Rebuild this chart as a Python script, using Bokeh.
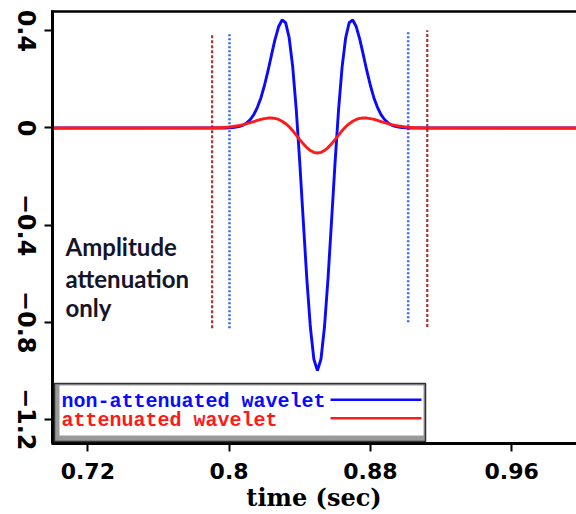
import math
from bokeh.plotting import figure
from bokeh.models import (Range1d, FixedTicker, CustomJSTickFormatter, BoxAnnotation,
                          Label, Arrow, ColumnDataSource)
from bokeh.core.properties import value
from bokeh.embed import file_html
from bokeh.resources import INLINE

# ---- data ----
time_s = [0.700,
          0.790, 0.792, 0.794, 0.796, 0.798, 0.800, 0.802, 0.804, 0.806, 0.808,
          0.810, 0.812, 0.814, 0.816, 0.818, 0.820, 0.822, 0.824, 0.826, 0.828,
          0.830, 0.832, 0.834, 0.836, 0.838, 0.840, 0.842, 0.844, 0.846, 0.848,
          0.850,
          0.852, 0.854, 0.856, 0.858, 0.860, 0.862, 0.864, 0.866, 0.868, 0.870,
          0.872, 0.874, 0.876, 0.878, 0.880, 0.882, 0.884, 0.886, 0.888, 0.890,
          0.892, 0.894, 0.896, 0.898, 0.900, 0.902, 0.904, 0.906, 0.908, 0.910,
          1.000]

non_attenuated = [0.0,
                  0.0, 0.0, 0.0, 0.0, 0.0, 0.001, 0.002, 0.004, 0.007, 0.012,
                  0.021, 0.035, 0.055, 0.085, 0.124, 0.175, 0.235, 0.301, 0.365, 0.417,
                  0.445, 0.434, 0.372, 0.253, 0.078, -0.142, -0.384, -0.621, -0.820, -0.953,
                  -1.000,
                  -0.953, -0.820, -0.621, -0.384, -0.142, 0.078, 0.253, 0.372, 0.434, 0.445,
                  0.417, 0.365, 0.301, 0.235, 0.175, 0.124, 0.085, 0.055, 0.035, 0.021,
                  0.012, 0.007, 0.004, 0.002, 0.001, 0.0, 0.0, 0.0, 0.0, 0.0,
                  0.0]

attenuated = [0.0,
              0.0006, 0.0010, 0.0014, 0.0021, 0.0031, 0.0043, 0.0060, 0.0082, 0.0108, 0.0140,
              0.0178, 0.0220, 0.0265, 0.0310, 0.0352, 0.0386, 0.0409, 0.0413, 0.0395, 0.0352,
              0.0279, 0.0177, 0.0050, -0.0111, -0.0292, -0.0477, -0.0653, -0.0807, -0.0928, -0.1004,
              -0.1030,
              -0.1004, -0.0928, -0.0807, -0.0653, -0.0477, -0.0292, -0.0111, 0.0050, 0.0177, 0.0279,
              0.0352, 0.0395, 0.0413, 0.0409, 0.0386, 0.0352, 0.0310, 0.0265, 0.0220, 0.0178,
              0.0140, 0.0108, 0.0082, 0.0060, 0.0043, 0.0031, 0.0021, 0.0014, 0.0010, 0.0006,
              0.0]

# window markers (time, top, bottom)
brown_marker_t = [0.7904, 0.9122]
brown_marker_top = [0.386, 0.403]
brown_marker_bottom = [-0.825, -0.82]
blue_marker_t = [0.8002, 0.9014]
blue_marker_top = [0.386, 0.403]
blue_marker_bottom = [-0.825, -0.80]

x_ticks = [0.72, 0.80, 0.88, 0.96]
x_tick_labels = ["0.72", "0.8", "0.88", "0.96"]
y_ticks = [-1.2, -0.8, -0.4, 0.0, 0.4]
y_tick_labels = ["\u22121.2", "\u22120.8", "\u22120.4", "0", "0.4"]

legend_labels = ["non-attenuated wavelet", "attenuated wavelet"]
note_lines = ["Amplitude", "attenuation", "only"]

BLUE = "#0a0aff"
RED = "#ff1a1a"
BROWN = "#a8342c"
LBLUE = "#3d66ff"

# ---- layout geometry (pixels) ----
W, H = 576, 514
X0, X1 = 0.70, 0.9967          # axis span
Y0, Y1 = -1.3, 0.48
AX_LEFT, AX_TOP, AX_BOTTOM = 52, 11, 443
xpx = (W - AX_LEFT) / (X1 - X0)
ypx = (AX_BOTTOM - AX_TOP) / (Y1 - Y0)
xr = Range1d(X0 - AX_LEFT / xpx, X1)
yr = Range1d(Y0 - (H - AX_BOTTOM) / ypx, Y1 + AX_TOP / ypx)

p = figure(width=W, height=H, output_backend="svg", toolbar_location=None,
           x_range=xr, y_range=yr,
           min_border_left=0, min_border_right=0, min_border_top=0, min_border_bottom=0)
p.title.visible = False
p.outline_line_color = None
p.grid.visible = False
p.background_fill_color = "white"
p.border_fill_color = "white"

fmt_code = """
for (let i = 0; i < vals.length; i++) { if (Math.abs(vals[i] - tick) < 1e-6) return labels[i]; }
return "";
"""
xa = p.xaxis[0]
xa.fixed_location = Y0
xa.bounds = (X0 - 1.5 / xpx, X1)
xa.ticker = FixedTicker(ticks=x_ticks)
xa.formatter = CustomJSTickFormatter(args=dict(vals=x_ticks, labels=x_tick_labels), code=fmt_code)
xa.major_label_text_font_size = "22px"
xa.major_label_standoff = 11
xa.axis_label = "time (sec)"
xa.axis_label_text_font = "DejaVu Serif"
xa.axis_label_text_font_style = "bold"
xa.axis_label_text_font_size = "24px"
xa.axis_label_text_color = "black"
xa.axis_label_standoff = 1

ya = p.yaxis[0]
ya.fixed_location = X0
ya.bounds = (Y0, Y1 + 1.2 / ypx)
ya.ticker = FixedTicker(ticks=y_ticks)
ya.formatter = CustomJSTickFormatter(code="return '';")
ya.major_label_text_font_size = "10px"

for ax in (xa, ya):
    ax.axis_line_width = 3
    ax.axis_line_color = "black"
    ax.major_tick_line_width = 2
    ax.major_tick_line_color = "black"
    ax.major_tick_in = 0
    ax.major_tick_out = 8
    ax.minor_tick_line_color = None
    ax.major_label_text_font = "DejaVu Sans"
    ax.major_label_text_font_style = "bold"
    ax.major_label_text_color = "black"

# rotated y tick labels (reading top to bottom)
n = len(y_ticks)
p.text(x=[X0 - 26 / xpx] * n, y=y_ticks, text=y_tick_labels, angle=-math.pi / 2,
       text_align="center", text_baseline="middle",
       text_font=value("DejaVu Sans"), text_font_style="bold",
       text_font_size="24px", text_color="black")

# top frame border
p.segment(x0=[X0 - 1.5 / xpx], y0=[Y1], x1=[X1], y1=[Y1], line_color="black", line_width=2.5)

# window markers
p.segment(x0=brown_marker_t, y0=brown_marker_bottom, x1=brown_marker_t, y1=brown_marker_top,
          line_color=BROWN, line_width=2.2, line_dash="3 2")
p.segment(x0=blue_marker_t, y0=blue_marker_bottom, x1=blue_marker_t, y1=blue_marker_top,
          line_color=LBLUE, line_width=2.6, line_dash="2 2")

src = ColumnDataSource(dict(t=time_s, a=non_attenuated, b=attenuated))
p.line("t", "a", source=src, line_color=BLUE, line_width=2.9)
p.line("t", "b", source=src, line_color=RED, line_width=2.9)

# screen y measured from canvas bottom
def sy(y_abs):
    return H - y_abs

# annotation text
note_baselines = [246, 278, 307]
for txt, yb in zip(note_lines, note_baselines):
    p.add_layout(Label(x=65, y=sy(yb), x_units="screen", y_units="screen", text=txt,
                       text_font="Lato", text_font_style="bold", text_font_size="24px",
                       text_color="#15152a", text_baseline="alphabetic"))

# custom legend box
p.add_layout(BoxAnnotation(left=54, right=425, bottom=sy(441), top=sy(383),
                           left_units="screen", right_units="screen",
                           bottom_units="screen", top_units="screen",
                           fill_color="#9a9a9a", fill_alpha=1,
                           line_color="#333333", line_alpha=1, line_width=1.5))
p.add_layout(BoxAnnotation(left=59, right=423, bottom=sy(435), top=sy(385),
                           left_units="screen", right_units="screen",
                           bottom_units="screen", top_units="screen",
                           fill_color="white", fill_alpha=1, line_color=None))

legend_colors = [BLUE, RED]
legend_text_y = [401, 419.5]
legend_line_y = [399.3, 417.7]
for lab, col, ty, ly in zip(legend_labels, legend_colors, legend_text_y, legend_line_y):
    p.add_layout(Arrow(x_start=330, y_start=sy(ly), x_end=421, y_end=sy(ly),
                       start_units="screen", end_units="screen", start=None, end=None,
                       line_color=col, line_width=2.6))
    p.add_layout(Label(x=61, y=sy(ty), x_units="screen", y_units="screen", text=lab,
                       text_font="Liberation Mono", text_font_style="bold",
                       text_font_size="20px", text_color=col, text_baseline="alphabetic"))

open("out.html", "w").write(file_html(p, INLINE))
